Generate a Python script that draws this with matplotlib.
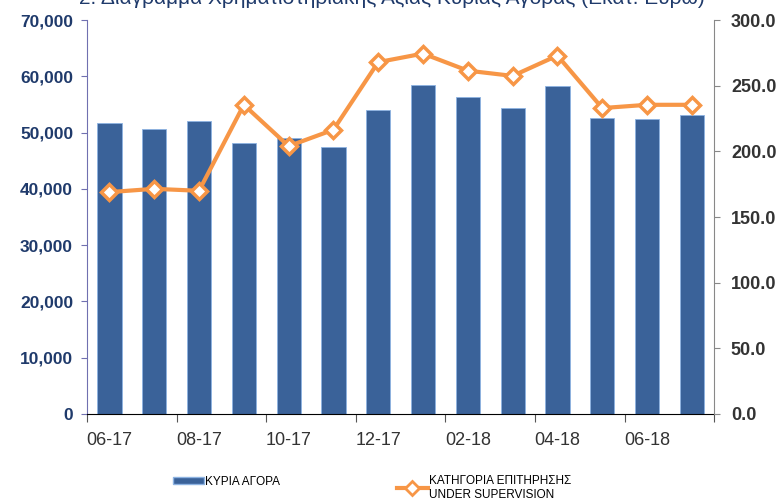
import matplotlib.pyplot as plt
from matplotlib.lines import Line2D
from matplotlib.patches import Patch
import numpy as np

# δεδομένα (εκτίμηση από το γράφημα)
months = ['06-17', '07-17', '08-17', '09-17', '10-17', '11-17', '12-17',
          '01-18', '02-18', '03-18', '04-18', '05-18', '06-18', '07-18']
main_market = [51700, 50600, 52100, 48200, 49000, 47400, 54000,
               58500, 56300, 54400, 58300, 52600, 52400, 53100]
supervision = [169.0, 171.5, 170.0, 235.5, 204.0, 216.5, 268.0,
               274.5, 261.5, 257.5, 273.0, 233.0, 235.5, 235.5]

title = '2. Διάγραμμα Χρηματιστηριακής Αξίας Κύριας Αγοράς (Εκατ. Ευρώ)'
label_bar = 'ΚΥΡΙΑ ΑΓΟΡΑ'
label_line = 'ΚΑΤΗΓΟΡΙΑ ΕΠΙΤΗΡΗΣΗΣ\nUNDER SUPERVISION'

navy = '#1F3A6B'
bar_col = '#3A6299'
orange = '#F79646'
plt.rcParams['font.family'] = ['Liberation Sans', 'DejaVu Sans']

fig = plt.figure(figsize=(7.84, 5.03), dpi=100)
ax = fig.add_axes([0.111, 0.177, 0.800, 0.783])
ax2 = ax.twinx()

x = np.arange(len(months))
ax.bar(x, main_market, width=0.54, color=bar_col, edgecolor='#8DB3E2', linewidth=0.6, zorder=2)
ax2.plot(x, supervision, color=orange, lw=3, marker='D', ms=8, mfc='white', mec=orange, mew=2.5, zorder=3)

ax.set_xlim(-0.5, len(months) - 0.5)
ax.set_ylim(0, 70000)
ax2.set_ylim(0, 300)
ax.set_yticks(range(0, 70001, 10000))
ax.set_yticklabels(['0' if v == 0 else f'{v:,}' for v in range(0, 70001, 10000)])
ax2.set_yticks(np.arange(0, 301, 50))
ax2.set_yticklabels([f'{v:.1f}' for v in np.arange(0, 301, 50)])

ax.set_xticks(np.arange(-0.5, len(months), 2))
ax.set_xticklabels([])
ax.set_xticks(x[::2], minor=True)
ax.set_xticklabels(months[::2], minor=True)
ax.tick_params(axis='x', which='minor', length=0, pad=13, labelsize=13, labelcolor='#333333')
ax.tick_params(axis='x', which='major', length=6, color='#555555')
ax.tick_params(axis='y', length=4, color='#7070B0', labelsize=12.5, labelcolor=navy, pad=6)
ax2.tick_params(axis='y', length=4, color='#888888', labelsize=13, labelcolor='#333333', pad=8)
for lab in ax.get_yticklabels() + ax2.get_yticklabels():
    lab.set_fontweight('bold')

for a in (ax, ax2):
    a.spines['top'].set_visible(False)
ax.spines['left'].set_color('#7070B0')
ax2.spines['left'].set_visible(False)
ax2.spines['right'].set_color('#888888')
ax2.spines['bottom'].set_visible(False)
ax.spines['right'].set_visible(False)
ax.spines['bottom'].set_color('black')

# ο τίτλος είναι κομμένος στο πάνω μέρος όπως στο πρωτότυπο
fig.text(0.5, 1.003, title, ha='center', va='center', fontsize=15, color=navy)

h1 = Patch(facecolor=bar_col, edgecolor='#8DB3E2')
h2 = Line2D([], [], color=orange, lw=3, marker='D', ms=7, mfc='white', mec=orange, mew=2)
fig.legend([h1], [label_bar], loc='center left', bbox_to_anchor=(0.207, 0.042),
           frameon=False, handlelength=2.6, handleheight=0.6, handletextpad=0.1,
           prop={'size': 8.5})
fig.legend([h2], [label_line], loc='center left', bbox_to_anchor=(0.493, 0.03),
           frameon=False, handlelength=2.6, handletextpad=0.1,
           prop={'size': 8.5})

fig.savefig('out.png', dpi=100)
